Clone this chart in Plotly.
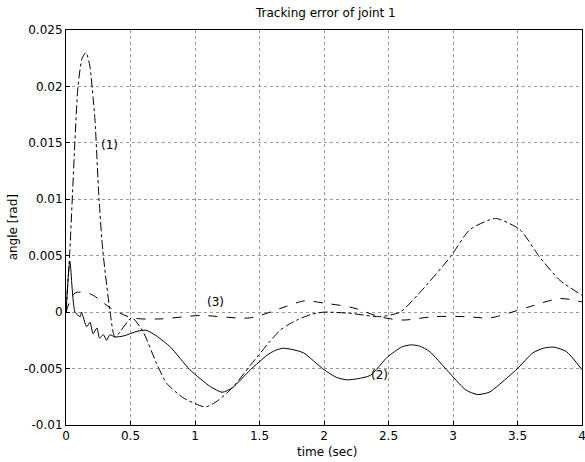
import plotly.graph_objects as go

# Curve (1): large initial peak
t1 = [0, 0.03, 0.093, 0.125, 0.155, 0.185, 0.21, 0.225, 0.255, 0.285, 0.34, 0.38, 0.51, 0.6, 0.7, 0.78, 0.91, 1.08, 1.17, 1.29, 1.43, 1.58, 1.66, 1.71, 1.79, 1.9, 2.0, 2.2, 2.43, 2.59, 2.74, 2.98, 3.13, 3.33, 3.52, 3.67, 3.83, 4.0]
e1 = [0, 0.0055, 0.02, 0.0225, 0.023, 0.0218, 0.019, 0.017, 0.0102, 0.0055, 0.0002, -0.0022, -0.0005, -0.0018, -0.0045, -0.0063, -0.0076, -0.0084, -0.0079, -0.0067, -0.0047, -0.0026, -0.0016, -0.0012, -0.0007, -0.0002, 0.0, -0.0001, -0.0004, 0.0, 0.0017, 0.0049, 0.0073, 0.0083, 0.0073, 0.0049, 0.0028, 0.0015]

# Curve (2): chattering start, then oscillation
t2 = [0, 0.03, 0.07, 0.11, 0.12, 0.16, 0.186, 0.21, 0.24, 0.26, 0.29, 0.315, 0.34, 0.38, 0.45, 0.55, 0.62, 0.7, 0.81, 0.96, 1.12, 1.21, 1.29, 1.43, 1.56, 1.62, 1.68, 1.75, 1.84, 2.0, 2.1, 2.18, 2.26, 2.36, 2.49, 2.6, 2.67, 2.74, 2.82, 2.95, 3.1, 3.19, 3.28, 3.35, 3.5, 3.62, 3.7, 3.78, 3.88, 4.0]
e2 = [0, 0.0045, 0.0, -0.0004, 0.0, -0.0013, -0.0009, -0.0019, -0.0014, -0.0023, -0.002, -0.0025, -0.002, -0.0022, -0.0021, -0.0017, -0.0016, -0.0021, -0.0031, -0.0051, -0.0066, -0.0071, -0.0067, -0.0051, -0.0038, -0.0034, -0.0032, -0.0033, -0.0036, -0.0051, -0.0058, -0.006, -0.0059, -0.0056, -0.004, -0.0031, -0.0029, -0.003, -0.0035, -0.0051, -0.0069, -0.0073, -0.0071, -0.0065, -0.005, -0.0036, -0.0032, -0.0031, -0.0035, -0.0051]

# Curve (3): nearly flat
t3 = [0, 0.07, 0.19, 0.26, 0.34, 0.51, 0.73, 1.04, 1.43, 1.68, 1.85, 2.0, 2.22, 2.43, 2.61, 2.85, 3.1, 3.29, 3.57, 3.83, 4.0]
e3 = [0, 0.0017, 0.0016, 0.0011, 0.0004, -0.0005, -0.0006, -0.0003, -0.0005, 0.0004, 0.001, 0.0008, 0.0004, -0.0004, -0.0007, -0.0004, -0.0004, -0.0005, 0.0004, 0.0012, 0.0009]

x_ticks = [0, 0.5, 1, 1.5, 2, 2.5, 3, 3.5, 4]
x_tick_text = ["0", "0.5", "1", "1.5", "2", "2.5", "3", "3.5", "4"]
y_ticks = [-0.01, -0.005, 0, 0.005, 0.01, 0.015, 0.02, 0.025]
y_tick_text = ["-0.01", "-0.005", "0", "0.005", "0.01", "0.015", "0.02", "0.025"]

labels = ["(1)", "(2)", "(3)"]
label_t = [0.34, 2.43, 1.155]
label_e = [0.0148, -0.0056, 0.0009]

FONT = "DejaVu Sans, Arial, sans-serif"
TXT = dict(family=FONT, size=12, color="black")

fig = go.Figure()
fig.add_trace(go.Scatter(x=t1, y=e1, mode="lines", line=dict(color="black", width=1, dash="dashdot", shape="spline", smoothing=0.6)))
fig.add_trace(go.Scatter(x=t2, y=e2, mode="lines", line=dict(color="black", width=1, shape="spline", smoothing=0.6)))
fig.add_trace(go.Scatter(x=t3, y=e3, mode="lines", line=dict(color="black", width=1, dash="dash", shape="spline", smoothing=0.8)))

for lab, lx, ly in zip(labels, label_t, label_e):
    fig.add_annotation(x=lx, y=ly, text=lab, showarrow=False, font=TXT)

# axis titles
fig.add_annotation(xref="paper", yref="paper", x=0.506, y=-0.068, text="time (sec)",
                   showarrow=False, xanchor="center", yanchor="middle", font=TXT)
fig.add_annotation(xref="paper", yref="paper", x=-0.103, y=0.5, text="angle [rad]", textangle=-90,
                   showarrow=False, xanchor="center", yanchor="middle", font=TXT)

axis_common = dict(showgrid=True, gridcolor="#999999", griddash="dot", gridwidth=1,
                   showline=True, linecolor="black", linewidth=1, mirror=True,
                   ticks="inside", ticklen=4, tickcolor="black", zeroline=False, automargin=False,
                   ticklabeloverflow="allow", tickfont=TXT)

fig.update_layout(
    width=585, height=462,
    margin=dict(l=66, r=3, t=30, b=37, autoexpand=False),
    paper_bgcolor="white", plot_bgcolor="white",
    showlegend=False,
    title=dict(text="Tracking error of joint 1", x=0.557, xanchor="center", y=0.972, yanchor="middle",
               font=TXT),
    xaxis=dict(range=[0, 4], tickvals=x_ticks, ticktext=x_tick_text, ticklabelstandoff=0, **axis_common),
    yaxis=dict(range=[-0.01, 0.025], tickvals=y_ticks, ticktext=y_tick_text, ticklabelstandoff=0, **axis_common),
)

fig.write_html("out.html", config={"displayModeBar": False},
               post_script="document.body.style.margin='0px';document.body.style.overflow='hidden';")
